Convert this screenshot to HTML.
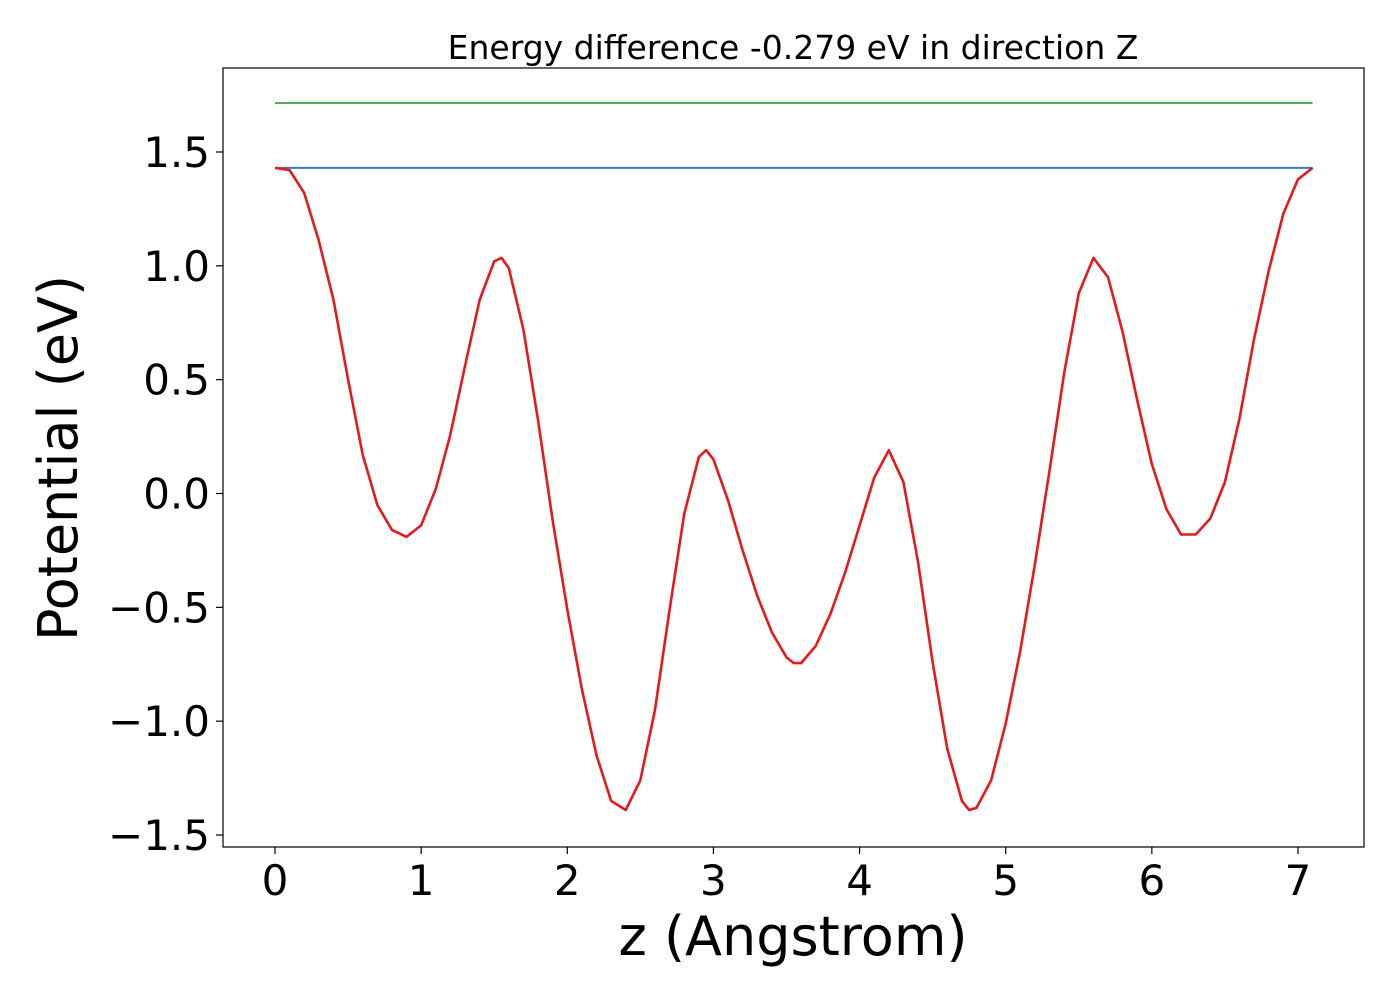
<!DOCTYPE html>
<html><head><meta charset="utf-8"><style>
html,body{margin:0;padding:0;background:#fff;}
svg{display:block;font-family:"DejaVu Sans","Liberation Sans",sans-serif;}
</style></head><body>
<svg id="chart" width="1400" height="1000">
<rect x="223" y="68" width="1141" height="779" fill="none" stroke="#000" stroke-width="1.2"/>
<text x="793" y="59" font-size="33" text-anchor="middle">Energy difference -0.279 eV in direction Z</text>
<text x="793" y="955" font-size="54" text-anchor="middle">z (Angstrom)</text>
<text transform="translate(77,458) rotate(-90)" font-size="54" text-anchor="middle">Potential (eV)</text>
<g id="ticks"></g>
<g id="marks"></g>
</svg>
<script>
const zVals=[0,0.1,0.2,0.3,0.4,0.5,0.6,0.7,0.8,0.9,1.0,1.1,1.2,1.3,1.4,1.5,1.55,1.6,1.7,1.8,1.9,2.0,2.1,2.2,2.3,2.4,2.5,2.6,2.7,2.8,2.9,2.95,3.0,3.1,3.2,3.3,3.4,3.5,3.55,3.6,3.7,3.8,3.9,4.0,4.1,4.2,4.3,4.4,4.5,4.6,4.7,4.75,4.8,4.9,5.0,5.1,5.2,5.3,5.4,5.5,5.6,5.7,5.8,5.9,6.0,6.1,6.2,6.3,6.4,6.5,6.6,6.7,6.8,6.9,7.0,7.1];
const potVals=[1.43,1.42,1.32,1.11,0.85,0.50,0.17,-0.05,-0.16,-0.19,-0.14,0.02,0.26,0.56,0.85,1.02,1.035,0.99,0.72,0.32,-0.12,-0.51,-0.86,-1.15,-1.35,-1.39,-1.26,-0.95,-0.51,-0.09,0.16,0.19,0.15,-0.03,-0.25,-0.45,-0.61,-0.72,-0.745,-0.745,-0.67,-0.53,-0.35,-0.14,0.07,0.19,0.05,-0.30,-0.74,-1.12,-1.35,-1.39,-1.38,-1.26,-1.01,-0.69,-0.31,0.10,0.53,0.88,1.035,0.95,0.71,0.41,0.13,-0.07,-0.18,-0.18,-0.11,0.05,0.33,0.68,0.98,1.23,1.38,1.43];
const blueLevel=[1.43];
const greenLevel=[1.715];
const xTicks=[0,1,2,3,4,5,6,7];
const yTicks=[-1.5,-1.0,-0.5,0.0,0.5,1.0,1.5];
const yTickLabels=["\u22121.5","\u22121.0","\u22120.5","0.0","0.5","1.0","1.5"];
const NS="http://www.w3.org/2000/svg";
function xs(z){return 275+z*146.14;}
function ys(v){return 493.5-v*227.67;}
const tg=document.getElementById('ticks'), mg=document.getElementById('marks');
function mk(tag,attrs,parent){const e=document.createElementNS(NS,tag);for(const k in attrs)e.setAttribute(k,attrs[k]);parent.appendChild(e);return e;}
xTicks.forEach(t=>{
  const l=mk('line',{x1:xs(t),x2:xs(t),y1:847,y2:854,stroke:'#000','stroke-width':1.2},tg);
  
  
  const tx=mk('text',{x:xs(t),y:895,'font-size':42,'text-anchor':'middle'},tg);
  tx.textContent=t;
  
  
});
yTicks.forEach((t,i)=>{
  const l=mk('line',{x1:216,x2:223,y1:ys(t),y2:ys(t),stroke:'#000','stroke-width':1.2},tg);
  
  
  const tx=mk('text',{x:210,y:ys(t)+15,'font-size':42,'text-anchor':'end'},tg);
  tx.textContent=yTickLabels[i];
  
  
});
const zMax=zVals[zVals.length-1];
const g=mk('line',{x1:xs(0),x2:xs(zMax),y1:ys(greenLevel[0]),y2:ys(greenLevel[0]),stroke:'#4daf4a','stroke-width':2},mg);


const b=mk('line',{x1:xs(0),x2:xs(zMax),y1:ys(blueLevel[0]),y2:ys(blueLevel[0]),stroke:'#377eb8','stroke-width':2},mg);


const pts=zVals.map((z,i)=>xs(z).toFixed(1)+','+ys(potVals[i]).toFixed(1)).join(' ');
const p=mk('polyline',{points:pts,fill:'none',stroke:'#e41a1c','stroke-width':2.6,'stroke-linejoin':'round'},mg);


</script>
</body></html>
